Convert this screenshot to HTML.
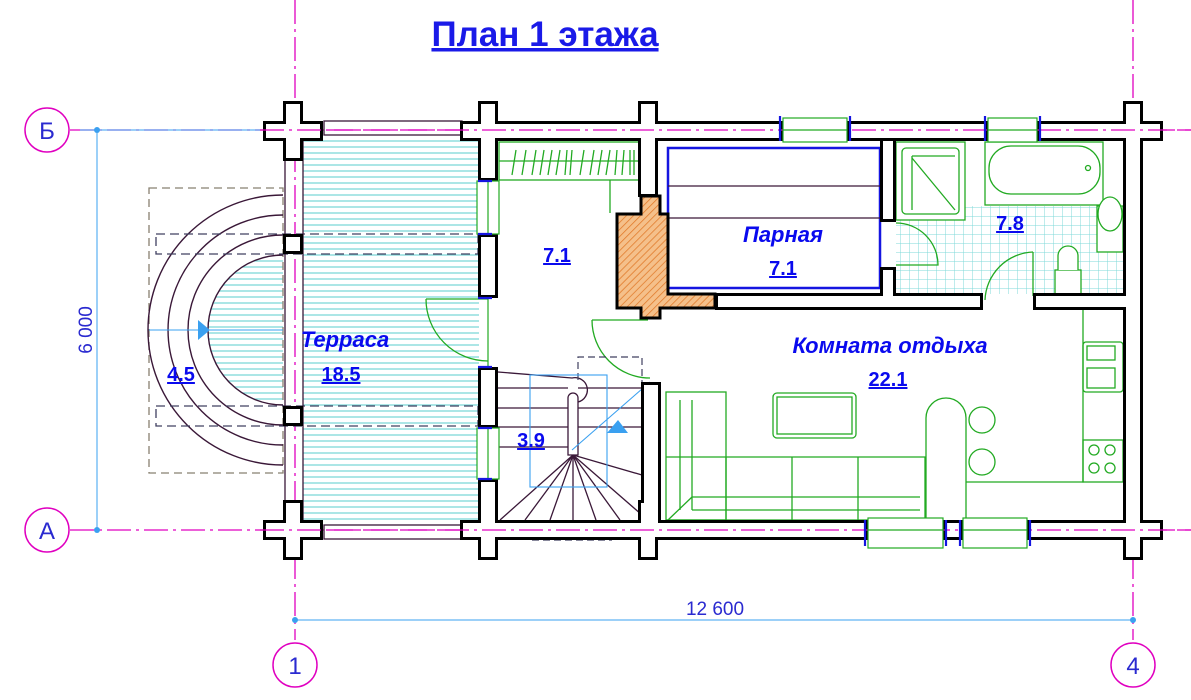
<!DOCTYPE html>
<html><head><meta charset="utf-8">
<style>
html,body{margin:0;padding:0;background:#fff;}
svg{display:block;}
text{font-family:"Liberation Sans",sans-serif;}
.lbl{fill:#0a0aee;font-weight:bold;font-style:italic;font-size:22px;}
.num{fill:#0a0aee;font-weight:bold;font-size:20px;text-decoration:underline;}
</style></head>
<body>
<svg width="1191" height="700" viewBox="0 0 1191 700" xmlns="http://www.w3.org/2000/svg">
<defs>
<pattern id="hh" width="6" height="6" patternUnits="userSpaceOnUse"><line x1="0" y1="3" x2="6" y2="3" stroke="#7fd8d8" stroke-width="1.3"/></pattern>
<pattern id="grid" width="9" height="9" patternUnits="userSpaceOnUse"><path d="M0 0H9M0 0V9" stroke="#7fd8d8" stroke-width="1" fill="none"/></pattern>
<pattern id="brick" width="5" height="5" patternUnits="userSpaceOnUse" patternTransform="rotate(45)"><rect width="5" height="5" fill="#f5c08a"/><line x1="0" y1="0" x2="0" y2="5" stroke="#e07828" stroke-width="1.5"/></pattern>
</defs>

<!-- axes -->
<g stroke="#e000c0" stroke-width="1.3" stroke-dasharray="24,5,3,5" fill="none">
<line x1="70" y1="130" x2="1191" y2="130"/>
<line x1="70" y1="530" x2="1191" y2="530"/>
<line x1="295" y1="0" x2="295" y2="640"/>
<line x1="1133" y1="0" x2="1133" y2="640"/>
</g>
<g fill="#fff" stroke="#e000c0" stroke-width="1.5">
<circle cx="47" cy="130" r="22"/><circle cx="47" cy="530" r="22"/>
<circle cx="295" cy="665" r="22"/><circle cx="1133" cy="665" r="22"/>
</g>
<g font-size="24" fill="#2a2ad0" text-anchor="middle">
<text x="47" y="139">Б</text><text x="47" y="539">А</text>
<text x="295" y="674">1</text><text x="1133" y="674">4</text>
</g>
<!-- dimensions -->
<g stroke="#3aa0f0" stroke-width="1">
<line x1="97" y1="130" x2="97" y2="530"/>
<line x1="80" y1="130" x2="300" y2="130"/>
<line x1="295" y1="620" x2="1133" y2="620"/>
</g>
<g fill="#3aa0f0"><circle cx="97" cy="130" r="3"/><circle cx="97" cy="530" r="3"/><circle cx="295" cy="620" r="3"/><circle cx="1133" cy="620" r="3"/></g>
<text x="715" y="615" font-size="19" fill="#2a2ad0" text-anchor="middle">12 600</text>
<text transform="translate(92,330) rotate(-90)" font-size="19" fill="#2a2ad0" text-anchor="middle">6 000</text>

<!-- title -->
<text x="545" y="46" font-size="35" font-weight="bold" fill="#1a1ae8" text-anchor="middle" text-decoration="underline">План 1 этажа</text>

<!-- terrace -->
<rect x="303" y="137" width="176" height="383" fill="url(#hh)"/>
<path d="M283 255 A75 75 0 0 0 283 405 Z" fill="url(#hh)"/>
<rect x="149" y="188" width="134" height="285" fill="none" stroke="#888070" stroke-width="1.3" stroke-dasharray="8,5"/>
<g fill="none" stroke="#3a1838" stroke-width="1.4">
<path d="M283 255 A75 75 0 0 0 283 405"/>
<path d="M283 235 A95 95 0 0 0 283 425"/>
<path d="M283 215 A115 115 0 0 0 283 445"/>
<path d="M283 195 A135 135 0 0 0 283 465"/>
</g>
<g fill="none" stroke="#404060" stroke-width="1.3" stroke-dasharray="9,5">
<rect x="156" y="234" width="322" height="20"/>
<rect x="156" y="406" width="322" height="20"/>
</g>
<line x1="149" y1="330" x2="283" y2="330" stroke="#3aa0f0"/>
<path d="M198 320 L210 330 L198 340 Z" fill="#3aa0f0"/>
<g stroke="#3a1838" stroke-width="1.3" fill="none">
<line x1="285" y1="141" x2="285" y2="520"/><line x1="303" y1="141" x2="303" y2="520"/>
<rect x="324" y="121" width="138" height="14"/>
<rect x="324" y="525" width="138" height="14"/>
</g>

<!-- closet -->
<g stroke="#22aa22" fill="none" stroke-width="1.3">
<rect x="499" y="142" width="142" height="38"/>
<line x1="499" y1="161" x2="641" y2="161"/>
<path d="M512 175 L516 150 M522 175 L526 150 M532 175 L536 150 M540 175 L544 150 M548 175 L552 150 M556 175 L560 150 M565 175 L567 150 M570 175 L572 150 M580 175 L584 150 M590 175 L594 150 M598 175 L602 150 M606 175 L610 150 M615 175 L617 150 M622 175 L624 150 M630 175 L630 150 M634 175 L634 150"/>
<line x1="610" y1="180" x2="610" y2="213"/>
</g>

<!-- Парная -->
<rect x="668" y="148" width="212" height="140" fill="#fff" stroke="#1515e0" stroke-width="2.5"/>
<line x1="668" y1="186" x2="880" y2="186" stroke="#3a1838" stroke-width="1.3"/>
<line x1="668" y1="218" x2="880" y2="218" stroke="#3a1838" stroke-width="1.3"/>

<!-- bathroom tiles -->
<rect x="896" y="206" width="227" height="88" fill="url(#grid)"/>
<g stroke="#22aa22" fill="none" stroke-width="1.3">
<rect x="896" y="142" width="69" height="78" fill="#fff"/>
<rect x="902" y="148" width="57" height="66" rx="4"/>
<line x1="912" y1="158" x2="955" y2="210"/><line x1="912" y1="156" x2="955" y2="156"/><line x1="912" y1="156" x2="912" y2="210"/>
<rect x="985" y="142" width="118" height="63" fill="#fff"/>
<rect x="989" y="146" width="111" height="48" rx="22"/>
<circle cx="1088" cy="168" r="2.5"/>
<rect x="1097" y="206" width="26" height="46" fill="#fff"/>
<ellipse cx="1110" cy="214" rx="12" ry="17" fill="#fff"/>
<rect x="1055" y="270" width="26" height="24" fill="#fff"/>
<path d="M1058 270 V256 A10 10 0 0 1 1078 256 V270" fill="#fff"/>
<path d="M896 223 A42 42 0 0 1 938 265 H896"/>
<path d="M1033 252 A50 50 0 0 0 985 300"/><line x1="1033" y1="252" x2="1033" y2="296"/>
</g>

<!-- living furniture -->
<g stroke="#22aa22" fill="none" stroke-width="1.3">
<rect x="666" y="392" width="60" height="128"/>
<path d="M666 457 H925 V520 H666"/>
<line x1="680" y1="400" x2="680" y2="510"/><line x1="692" y1="400" x2="692" y2="510"/>
<line x1="692" y1="510" x2="920" y2="510"/><line x1="692" y1="497" x2="920" y2="497"/>
<line x1="692" y1="497" x2="668" y2="520"/>
<line x1="726" y1="457" x2="726" y2="520"/><line x1="792" y1="457" x2="792" y2="520"/><line x1="858" y1="457" x2="858" y2="520"/>
<rect x="773" y="393" width="83" height="45" rx="4"/><rect x="777" y="397" width="75" height="37"/>
<path d="M926 518 V418 A20 20 0 0 1 966 418 V518"/>
<circle cx="982" cy="420" r="13"/><circle cx="982" cy="462" r="13"/>
<path d="M966 482 H1083 V307"/>
<rect x="1083" y="342" width="40" height="50" rx="3"/>
<rect x="1087" y="346" width="28" height="14"/>
<rect x="1087" y="368" width="28" height="20"/>
<rect x="1083" y="440" width="40" height="42"/>
<circle cx="1094" cy="450" r="5"/><circle cx="1110" cy="450" r="5"/><circle cx="1094" cy="468" r="5"/><circle cx="1110" cy="468" r="5"/>
<path d="M426 299 H488 M426 299 A62 62 0 0 0 488 361"/>
<path d="M592 320 H648 M592 320 A58 58 0 0 0 650 378"/>
</g>

<!-- stair -->
<g stroke="#3a1838" stroke-width="1.3" fill="none">
<path d="M498 372 L572 378 A12 12 0 0 1 578 402"/>
<line x1="498" y1="388" x2="568" y2="388"/>
<line x1="498" y1="408" x2="568" y2="408"/>
<line x1="498" y1="427" x2="568" y2="427"/>
<line x1="498" y1="447" x2="568" y2="447"/>
<path d="M568 398 V455 H578 V398 A5 5 0 0 0 568 398"/>
<g>
<line x1="573" y1="455" x2="500" y2="520"/><line x1="573" y1="455" x2="525" y2="520"/>
<line x1="573" y1="455" x2="550" y2="520"/><line x1="573" y1="455" x2="573" y2="520"/>
<line x1="573" y1="455" x2="596" y2="520"/><line x1="573" y1="455" x2="620" y2="520"/>
<line x1="573" y1="455" x2="642" y2="515"/><line x1="573" y1="455" x2="642" y2="475"/>
</g>
<line x1="578" y1="388" x2="642" y2="388"/><line x1="578" y1="408" x2="642" y2="408"/><line x1="578" y1="427" x2="642" y2="427"/>
</g>
<g fill="none" stroke="#404060" stroke-width="1.2" stroke-dasharray="7,4">
<path d="M578 380 V357 H642 V385"/>
<path d="M538 527 V522 H608 V527 M532 540 H612"/>
</g>
<g stroke="#3aa0f0" fill="none" stroke-width="1.1">
<rect x="530" y="375" width="77" height="112"/>
<line x1="572" y1="450" x2="650" y2="382"/>
</g>
<path d="M607 433 L618 420 L628 433 Z" fill="#3aa0f0"/>

<!-- fireplace -->
<path d="M617 214 H641 V196 H660 V214 H668 V294 H715 V308 H660 V318 H641 V308 H617 Z" fill="url(#brick)" stroke="#000" stroke-width="3"/>

<!-- walls: black layer -->
<g fill="#000" stroke="#000" stroke-width="6" stroke-linejoin="miter">
<rect x="266" y="124" width="54" height="14"/><rect x="286" y="104" width="14" height="54"/>
<rect x="266" y="523" width="54" height="14"/><rect x="286" y="503" width="14" height="54"/>
<rect x="463" y="124" width="317" height="14"/><rect x="850" y="124" width="135" height="14"/><rect x="1040" y="124" width="120" height="14"/>
<rect x="463" y="523" width="402" height="14"/><rect x="946" y="523" width="14" height="14"/><rect x="1030" y="523" width="130" height="14"/>
<rect x="481" y="104" width="14" height="74"/><rect x="481" y="237" width="14" height="58"/><rect x="481" y="370" width="14" height="55"/><rect x="481" y="482" width="14" height="75"/>
<rect x="641" y="104" width="14" height="90"/><rect x="641" y="503" width="14" height="54"/><rect x="644" y="385" width="14" height="150"/>
<rect x="1126" y="104" width="14" height="453"/>
<rect x="286" y="237" width="14" height="14"/><rect x="286" y="409" width="14" height="14"/>
<rect x="718" y="296" width="262" height="11"/><rect x="1036" y="296" width="90" height="11"/>
<rect x="883" y="141" width="10" height="78"/><rect x="883" y="270" width="10" height="26"/>
</g>
<g fill="#fff">
<rect x="266" y="124" width="54" height="14"/><rect x="286" y="104" width="14" height="54"/>
<rect x="266" y="523" width="54" height="14"/><rect x="286" y="503" width="14" height="54"/>
<rect x="463" y="124" width="317" height="14"/><rect x="850" y="124" width="135" height="14"/><rect x="1040" y="124" width="120" height="14"/>
<rect x="463" y="523" width="402" height="14"/><rect x="946" y="523" width="14" height="14"/><rect x="1030" y="523" width="130" height="14"/>
<rect x="481" y="104" width="14" height="74"/><rect x="481" y="237" width="14" height="58"/><rect x="481" y="370" width="14" height="55"/><rect x="481" y="482" width="14" height="75"/>
<rect x="641" y="104" width="14" height="90"/><rect x="641" y="503" width="14" height="54"/><rect x="644" y="385" width="14" height="150"/>
<rect x="1126" y="104" width="14" height="453"/>
<rect x="286" y="237" width="14" height="14"/><rect x="286" y="409" width="14" height="14"/>
<rect x="718" y="296" width="262" height="11"/><rect x="1036" y="296" width="90" height="11"/>
<rect x="883" y="141" width="10" height="78"/><rect x="883" y="270" width="10" height="26"/>
</g>
<!-- axis over walls -->
<g stroke="#e000c0" stroke-width="1.2" stroke-dasharray="24,5,3,5"><line x1="260" y1="130" x2="1191" y2="130"/><line x1="260" y1="530" x2="1191" y2="530"/></g>

<!-- windows -->
<g stroke="#22aa22" fill="#fff" stroke-width="1.2">
<rect x="783" y="118" width="64" height="24"/><line x1="783" y1="130" x2="847" y2="130"/>
<rect x="988" y="118" width="49" height="24"/><line x1="988" y1="130" x2="1037" y2="130"/>
<rect x="868" y="518" width="75" height="30"/><line x1="868" y1="530" x2="943" y2="530"/>
<rect x="963" y="518" width="64" height="30"/><line x1="963" y1="530" x2="1027" y2="530"/>
<rect x="477" y="181" width="22" height="53"/><line x1="488" y1="181" x2="488" y2="234"/>
<rect x="477" y="428" width="22" height="51"/><line x1="488" y1="428" x2="488" y2="479"/>
<line x1="488" y1="298" x2="488" y2="367"/>
</g>
<g stroke="#1515e0" fill="none" stroke-width="2.2">
<path d="M780 116 V141 M850 116 V141 M985 116 V141 M1040 116 V141"/>
<path d="M865 520 V546 M946 520 V546 M960 520 V546 M1030 520 V546"/>
<path d="M478 181 H492 M478 234 H492 M478 428 H492 M478 479 H492 M478 298 H492 M478 367 H492"/>
</g>

<!-- labels -->
<text x="345" y="347" class="lbl" text-anchor="middle">Терраса</text>
<text x="341" y="381" class="num" text-anchor="middle">18.5</text>
<text x="181" y="381" class="num" text-anchor="middle">4.5</text>
<text x="557" y="262" class="num" text-anchor="middle">7.1</text>
<text x="531" y="447" class="num" text-anchor="middle">3.9</text>
<text x="783" y="242" class="lbl" text-anchor="middle">Парная</text>
<text x="783" y="275" class="num" text-anchor="middle">7.1</text>
<text x="1010" y="230" class="num" text-anchor="middle">7.8</text>
<text x="890" y="353" class="lbl" text-anchor="middle">Комната отдыха</text>
<text x="888" y="386" class="num" text-anchor="middle">22.1</text>
</svg>
</body></html>
